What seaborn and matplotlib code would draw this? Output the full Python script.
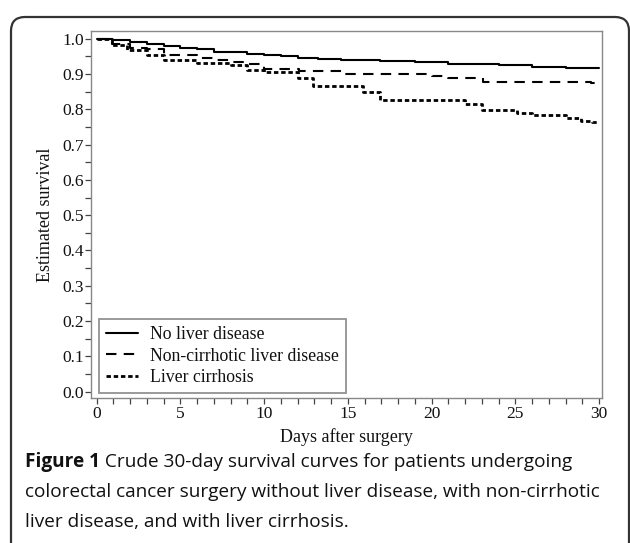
import matplotlib
matplotlib.use("Agg")
import matplotlib.pyplot as plt
import seaborn as sns
import pandas as pd
from matplotlib.patches import FancyBboxPatch
from matplotlib.transforms import IdentityTransform
from matplotlib.ticker import MultipleLocator

# ---- data ----
groups = ["No liver disease", "Non-cirrhotic liver disease", "Liver cirrhosis"]
days_none = [0, 0.9, 2, 3, 4, 5, 6, 7, 9, 10, 11, 12, 13.2, 14.6, 16.9, 19, 21, 24, 26, 28, 30]
surv_none = [1.0, 0.996, 0.991, 0.985, 0.979, 0.974, 0.970, 0.963, 0.956, 0.953, 0.950,
             0.946, 0.942, 0.939, 0.936, 0.933, 0.929, 0.925, 0.921, 0.918, 0.916]
days_noncirr = [0, 0.9, 2, 3, 4, 6, 7, 8, 9, 10, 12.1, 14.8, 20, 21, 23.1, 29.5, 30]
surv_noncirr = [1.0, 0.986, 0.975, 0.970, 0.955, 0.945, 0.939, 0.933, 0.928, 0.915, 0.910,
                0.899, 0.895, 0.890, 0.878, 0.874, 0.874]
days_cirr = [0, 0.9, 1.8, 3, 4, 6, 8, 9, 10, 12, 12.9, 15.9, 16.9, 22, 23, 25.1, 26, 28,
             28.9, 29.6, 30]
surv_cirr = [1.0, 0.982, 0.968, 0.954, 0.941, 0.930, 0.926, 0.912, 0.906, 0.889, 0.867,
             0.850, 0.827, 0.815, 0.798, 0.790, 0.784, 0.776, 0.768, 0.763, 0.763]
x_ticks = [0, 5, 10, 15, 20, 25, 30]
y_ticks = [0.0, 0.1, 0.2, 0.3, 0.4, 0.5, 0.6, 0.7, 0.8, 0.9, 1.0]

series = [(days_none, surv_none), (days_noncirr, surv_noncirr), (days_cirr, surv_cirr)]

sns.set_style("white")
serif = ["Liberation Serif", "DejaVu Serif"]

fig = plt.figure(figsize=(6.3, 5.43), dpi=100)
ax = fig.add_axes([91 / 630, 1 - 398 / 543, (602 - 91) / 630, (398 - 31) / 543])

styles = [
    dict(linestyle="-", linewidth=1.5),
    dict(linestyle=(0, (5, 3.5)), linewidth=1.5),
    dict(linestyle=(0, (1.6, 1.0)), linewidth=2.0),
]
for name, (d, s), st in zip(groups, series, styles):
    df = pd.DataFrame({"day": d, "surv": s})
    sns.lineplot(data=df, x="day", y="surv", ax=ax, color="black", drawstyle="steps-post",
                 estimator=None, sort=False, label=name, **st)

ax.set_xlim(-0.34, 30.18)
ax.set_ylim(-0.018, 1.022)
ax.set_xticks(x_ticks)
ax.set_xticklabels([str(v) for v in x_ticks], fontfamily=serif, fontsize=12.5)
ax.set_yticks(y_ticks)
ax.set_yticklabels([f"{v:.1f}" for v in y_ticks], fontfamily=serif, fontsize=12.5)
ax.xaxis.set_minor_locator(MultipleLocator(1))
ax.yaxis.set_minor_locator(MultipleLocator(0.05))
ax.tick_params(axis="both", which="both", direction="out", length=4, width=0.9,
               color="#444444", bottom=True, left=True)
ax.tick_params(axis="x", which="major", pad=2, labelcolor="#111111")
ax.tick_params(axis="y", which="major", pad=1, labelcolor="#111111")
for sp in ax.spines.values():
    sp.set_color("#888888")
    sp.set_linewidth(1.0)

ax.set_xlabel("Days after surgery", fontfamily=serif, fontsize=13, labelpad=4, color="#111111")
ax.set_ylabel("Estimated survival", fontfamily=serif, fontsize=13, labelpad=6, color="#111111")

leg = ax.legend(loc="lower left", bbox_to_anchor=(0.008, 0.004), frameon=True, fancybox=False,
                prop={"family": serif, "size": 12.8}, handlelength=1.8, handletextpad=0.7,
                borderpad=0.4, labelspacing=0.24, borderaxespad=0.2)
leg.get_frame().set_edgecolor("#777777")
leg.get_frame().set_linewidth(1.3)
for t in leg.get_texts():
    t.set_color("#111111")

# outer rounded frame
box = FancyBboxPatch((11, -60), 618, 543 - 17 + 60, boxstyle="round,pad=0,rounding_size=14",
                     transform=IdentityTransform(), fill=False, ec="#333333", lw=1.6)
fig.add_artist(box)

# caption
cap_font = ["Open Sans", "DejaVu Sans"]
cap_color = "#111111"
cap_size = 13.7
renderer = fig.canvas.get_renderer()
x0 = 25 / 630
lines_y = [1 - 462 / 543, 1 - 492 / 543, 1 - 522 / 543]
t_bold = fig.text(x0, lines_y[0], "Figure 1", fontfamily=cap_font, fontsize=cap_size,
                  fontweight="bold", color=cap_color, va="center", ha="left")
bb = t_bold.get_window_extent(renderer=renderer)
fig.text(bb.x1 / 630, lines_y[0], " Crude 30-day survival curves for patients undergoing",
         fontfamily=cap_font, fontsize=cap_size, color=cap_color, va="center", ha="left")
fig.text(x0, lines_y[1], "colorectal cancer surgery without liver disease, with non-cirrhotic",
         fontfamily=cap_font, fontsize=cap_size, color=cap_color, va="center", ha="left")
fig.text(x0, lines_y[2], "liver disease, and with liver cirrhosis.",
         fontfamily=cap_font, fontsize=cap_size, color=cap_color, va="center", ha="left")

fig.savefig("out.png", dpi=100)
